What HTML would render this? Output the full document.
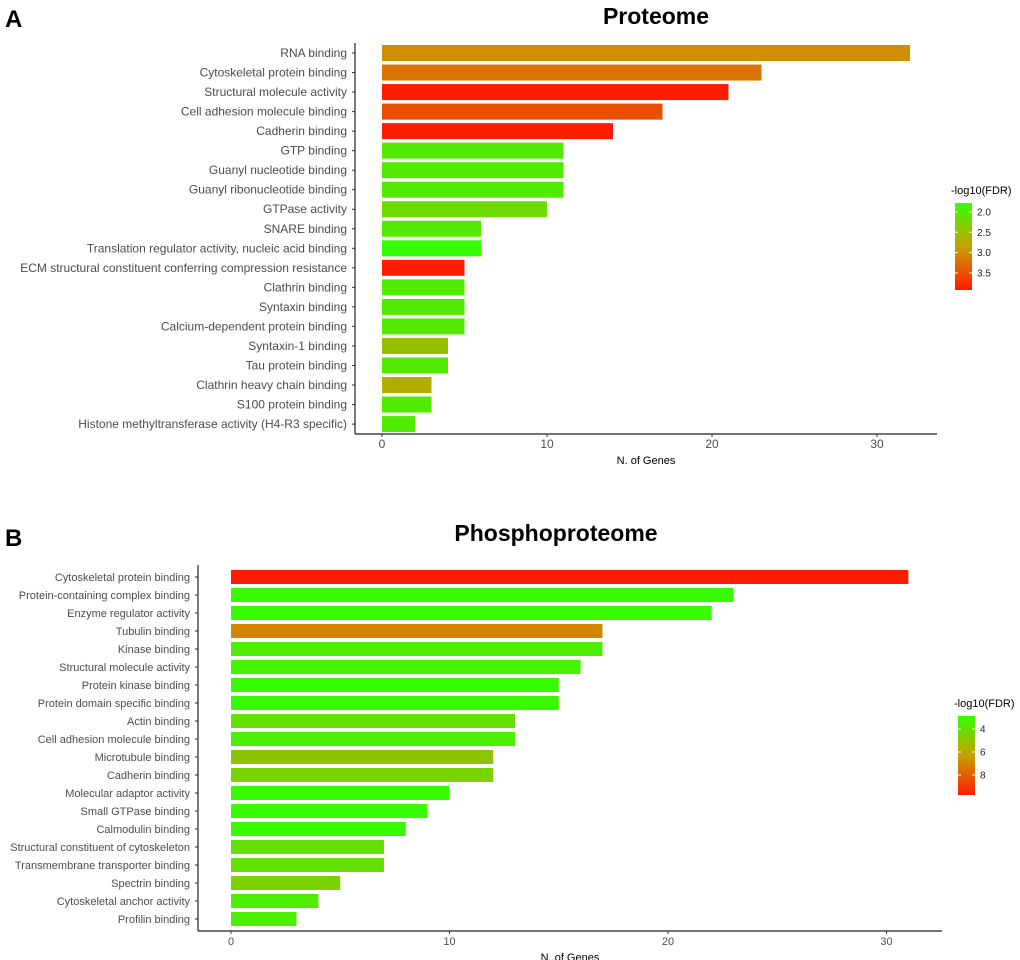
<!DOCTYPE html>
<html><head><meta charset="utf-8"><style>
body{margin:0;background:#fff}
svg{display:block;font-family:"Liberation Sans",Arial,sans-serif}
</style></head><body>
<svg id="c" width="1020" height="960">
<text x="5" y="27" font-size="24" font-weight="bold">A</text>
<text x="656" y="24" font-size="23" font-weight="bold" text-anchor="middle">Proteome</text>
<text x="5" y="546" font-size="24" font-weight="bold">B</text>
<text x="556" y="541" font-size="23" font-weight="bold" text-anchor="middle">Phosphoproteome</text>
<defs>
<linearGradient id="lg" x1="0" y1="0" x2="0" y2="1"><stop offset="0" stop-color="#33ff00"/><stop offset="0.5" stop-color="#c8a000"/><stop offset="1" stop-color="#ff1a00"/></linearGradient>
</defs>
</svg>
<script>
const catsA=["RNA binding","Cytoskeletal protein binding","Structural molecule activity","Cell adhesion molecule binding","Cadherin binding","GTP binding","Guanyl nucleotide binding","Guanyl ribonucleotide binding","GTPase activity","SNARE binding","Translation regulator activity, nucleic acid binding","ECM structural constituent conferring compression resistance","Clathrin binding","Syntaxin binding","Calcium-dependent protein binding","Syntaxin-1 binding","Tau protein binding","Clathrin heavy chain binding","S100 protein binding","Histone methyltransferase activity (H4-R3 specific)"];
const valsA=[32,23,21,17,14,11,11,11,10,6,6,5,5,5,5,4,4,3,3,2];
const fdrA=[3.0,3.2,3.9,3.5,3.9,2.0,2.0,2.0,2.2,2.0,1.8,3.9,2.0,2.0,2.0,2.5,2.0,2.7,2.0,2.0];
const ticksA=[0,10,20,30];
const legA=[2.0,2.5,3.0,3.5];
const catsB=["Cytoskeletal protein binding","Protein-containing complex binding","Enzyme regulator activity","Tubulin binding","Kinase binding","Structural molecule activity","Protein kinase binding","Protein domain specific binding","Actin binding","Cell adhesion molecule binding","Microtubule binding","Cadherin binding","Molecular adaptor activity","Small GTPase binding","Calmodulin binding","Structural constituent of cytoskeleton","Transmembrane transporter binding","Spectrin binding","Cytoskeletal anchor activity","Profilin binding"];
const valsB=[31,23,22,17,17,16,15,15,13,13,12,12,10,9,8,7,7,5,4,3];
const fdrB=[9.7,3.0,3.0,7.0,3.5,3.3,3.0,3.0,4.0,3.5,5.0,4.5,3.0,3.0,3.0,4.0,4.0,4.5,3.5,3.5];
const ticksB=[0,10,20,30];
const legB=[4,6,8];
const NS="http://www.w3.org/2000/svg";
const svg=document.getElementById('c');
function mk(t,a,txt){const e=document.createElementNS(NS,t);for(const k in a)e.setAttribute(k,a[k]);if(txt!==undefined)e.textContent=txt;svg.appendChild(e);return e;}
function lerp(a,b,t){return a.map((v,i)=>Math.round(v+(b[i]-v)*t));}
function col(t){t=Math.max(0,Math.min(1,t));const g=[51,255,0],m=[200,160,0],r=[255,26,0];const c=t<0.5?lerp(g,m,t*2):lerp(m,r,(t-0.5)*2);return `rgb(${c})`;}
function panel(p){
  const x=v=>p.x0+v*p.ppu, y=i=>p.y0+i*p.step;
  const fc=f=>col((f-p.fmin)/(p.fmax-p.fmin));
  p.cats.forEach((c,i)=>{
    const r=mk('rect',{x:x(0),y:y(i)-p.bh/2,width:x(p.vals[i])-x(0),height:p.bh,fill:fc(p.fdr[i])});
    
    
    const t=mk('text',{x:p.ax-8,y:y(i)+4,'font-size':p.fs,'text-anchor':'end',fill:'#4d4d4d'},c);
    
    
    mk('line',{x1:p.ax-3,x2:p.ax,y1:y(i),y2:y(i),stroke:'#333'});
  });
  const a1=mk('line',{x1:p.ax,x2:p.ax,y1:p.top,y2:p.bot,stroke:'#222','stroke-width':1.2});
  
  
  const a2=mk('line',{x1:p.ax,x2:p.right,y1:p.bot,y2:p.bot,stroke:'#222','stroke-width':1.2});
  
  
  p.ticks.forEach(v=>{
    mk('line',{x1:x(v),x2:x(v),y1:p.bot,y2:p.bot+3,stroke:'#333'});
    const t=mk('text',{x:x(v),y:p.bot+14,'font-size':p.fs,'text-anchor':'middle',fill:'#4d4d4d'},v);
    
    
  });
  const xt=mk('text',{x:(p.ax+p.right)/2,y:p.bot+30,'font-size':11,'text-anchor':'middle'},'N. of Genes');
  
  
  const lt=mk('text',{x:p.lx-4,y:p.ly-9,'font-size':11},'-log10(FDR)');
  
  
  const lr=mk('rect',{x:p.lx,y:p.ly,width:17,height:p.lh,fill:'url(#lg)'});
  
  
  p.leg.forEach(v=>{
    const yy=p.ly+(v-p.fmin)/(p.fmax-p.fmin)*p.lh;
    mk('line',{x1:p.lx,x2:p.lx+3,y1:yy,y2:yy,stroke:'#fff'});
    mk('line',{x1:p.lx+14,x2:p.lx+17,y1:yy,y2:yy,stroke:'#fff'});
    const t=mk('text',{x:p.lx+22,y:yy+3.5,'font-size':10,fill:'#222'},p.id==='a'?v.toFixed(1):v);
    
    
  });
}
panel({id:'a',cats:catsA,vals:valsA,fdr:fdrA,ticks:ticksA,leg:legA,x0:382,ppu:16.5,y0:53,step:19.53,bh:16,ax:355,top:43,bot:434,right:937,fs:12,fmin:1.78,fmax:3.92,lx:955,ly:203,lh:87});
panel({id:'b',cats:catsB,vals:valsB,fdr:fdrB,ticks:ticksB,leg:legB,x0:231,ppu:21.85,y0:577,step:18,bh:14,ax:198,top:565,bot:931,right:942,fs:11,fmin:2.87,fmax:9.74,lx:958,ly:716,lh:79});
</script>
</body></html>
